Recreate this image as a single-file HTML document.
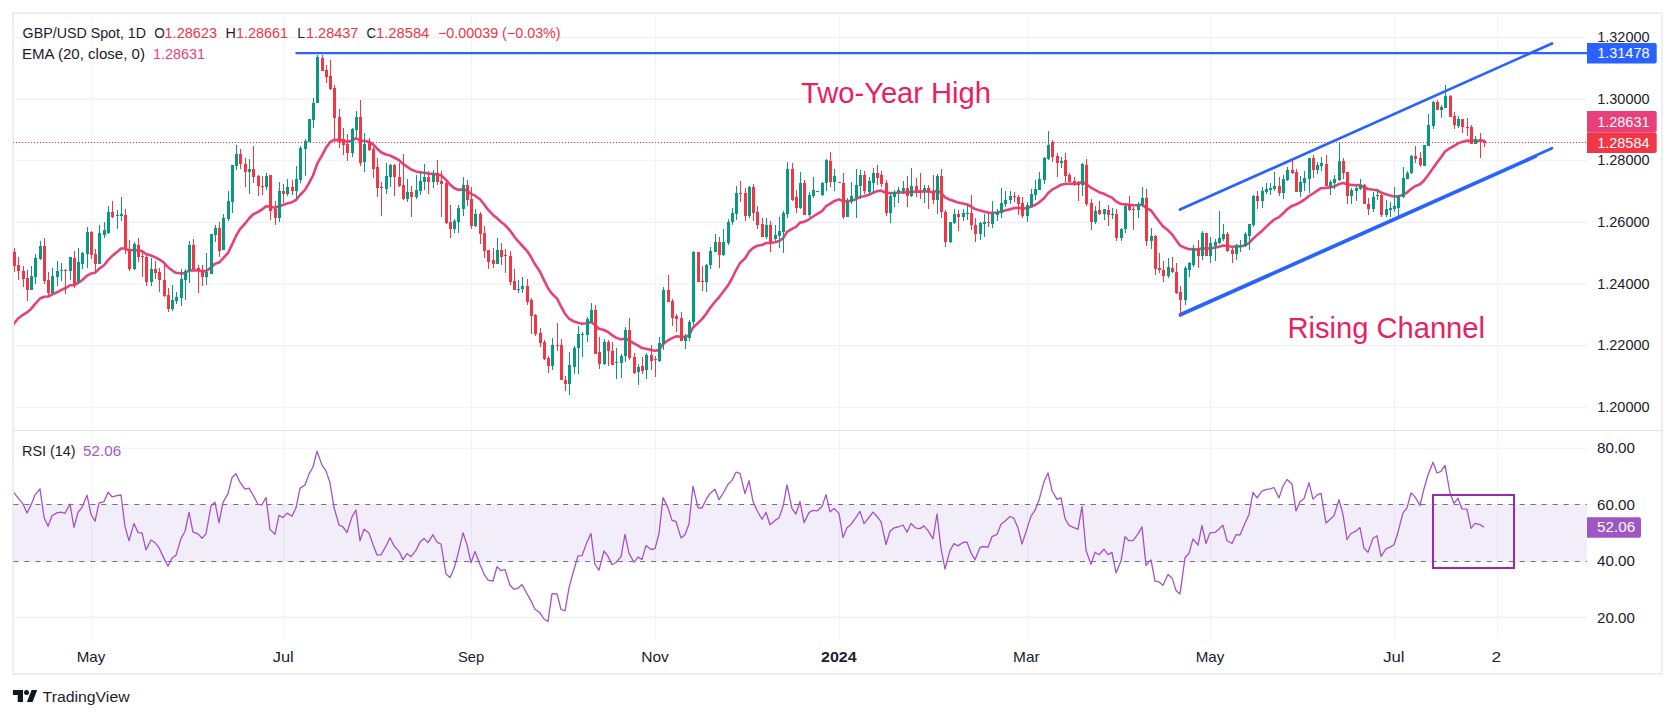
<!DOCTYPE html>
<html lang="en"><head><meta charset="utf-8"><title>GBP/USD Spot, 1D</title>
<style>html,body{margin:0;padding:0;background:#fff}body{width:1675px;height:718px;overflow:hidden}svg{display:block}text{font-family:"Liberation Sans", Arial, sans-serif;font-size:14.4px;fill:#1c202b}</style>
</head><body>
<svg width="1675" height="718" viewBox="0 0 1675 718">
<rect width="1675" height="718" fill="#fff"/>
<defs><clipPath id="plot"><rect x="14" y="14" width="1573" height="625"/></clipPath></defs>
<rect x="13" y="13" width="1649" height="661" fill="none" stroke="#eceef3" stroke-width="2"/>
<path d="M91.5 14V638.5M283.5 14V638.5M471.5 14V638.5M655.5 14V638.5M839.5 14V638.5M1027.5 14V638.5M1210.5 14V638.5M1394.5 14V638.5M1497.5 14V638.5" stroke="#f2f3f4" stroke-width="1" fill="none" shape-rendering="crispEdges"/>
<path d="M14 37.5H1587.0M14 99.1H1587.0M14 160.7H1587.0M14 222.4H1587.0M14 284.0H1587.0M14 345.6H1587.0M14 407.3H1587.0M14 448.3H1587.0M14 617.4H1587.0" stroke="#eff0f2" stroke-width="1.1" fill="none"/>
<path d="M13 430.5H1662" stroke="#e0e3eb" stroke-width="1" shape-rendering="crispEdges"/>
<rect x="14" y="504" width="1573.0" height="57.8" fill="#7e57c2" fill-opacity="0.1"/>
<path d="M13.4 504.5H1587.0M13.4 561.5H1587.0" stroke="#6f727c" stroke-width="1" stroke-dasharray="5 5.995" fill="none"/>
<path d="M13 142.5H1587.0" stroke="#f23645" stroke-width="1" stroke-dasharray="1.2 1.8" fill="none"/>
<polyline clip-path="url(#plot)" points="10.7,328.3 14.0,323.5 18.0,318.5 23.0,314.8 27.0,312.4 31.0,308.9 35.0,304.1 40.0,298.5 44.0,296.8 48.0,296.5 52.0,294.5 57.0,292.3 61.0,290.1 65.0,288.3 70.0,285.3 74.0,285.2 78.0,283.0 82.0,280.2 87.0,275.6 91.0,273.6 95.0,272.7 99.0,268.9 104.0,265.2 108.0,260.1 112.0,256.1 117.0,252.1 121.0,248.5 125.0,248.5 129.0,250.5 134.0,249.8 138.0,250.5 142.0,251.1 146.0,254.0 151.0,255.5 155.0,257.1 159.0,259.3 164.0,262.8 168.0,267.2 172.0,270.3 176.0,272.8 181.0,273.4 185.0,273.1 189.0,270.5 193.0,270.3 198.0,270.5 202.0,271.1 206.0,271.1 211.0,267.6 215.0,263.8 219.0,262.6 223.0,258.4 228.0,253.0 232.0,244.6 236.0,236.0 240.0,229.1 245.0,223.6 249.0,218.5 253.0,214.5 258.0,211.8 262.0,209.5 266.0,206.3 270.0,206.8 275.0,207.8 279.0,206.2 283.0,205.0 287.0,203.4 292.0,202.2 296.0,200.0 300.0,195.0 305.0,189.9 309.0,183.2 313.0,175.5 317.0,164.2 322.0,155.3 326.0,147.8 330.0,142.2 334.0,139.9 339.0,140.1 343.0,140.5 347.0,141.7 352.0,140.5 356.0,138.2 360.0,140.6 364.0,140.9 369.0,141.7 373.0,144.3 377.0,148.5 381.0,152.2 386.0,154.5 390.0,155.5 394.0,157.5 399.0,160.2 403.0,163.9 407.0,166.6 411.0,169.5 416.0,171.4 420.0,172.3 424.0,172.8 428.0,173.6 433.0,173.7 437.0,174.4 441.0,175.3 446.0,179.9 450.0,184.5 454.0,188.0 458.0,189.9 463.0,189.4 467.0,190.4 471.0,193.8 475.0,195.7 480.0,199.3 484.0,204.2 488.0,209.7 493.0,214.9 497.0,218.3 501.0,221.9 505.0,225.1 510.0,230.5 514.0,236.2 518.0,241.2 522.0,245.5 527.0,250.8 531.0,257.0 535.0,264.3 540.0,271.8 544.0,280.1 548.0,288.3 552.0,293.7 557.0,298.6 561.0,306.4 565.0,313.8 569.0,318.7 574.0,321.5 578.0,322.7 582.0,323.7 587.0,323.3 591.0,322.0 595.0,325.0 599.0,328.7 604.0,330.0 608.0,332.0 612.0,335.1 616.0,337.6 621.0,339.4 625.0,338.5 629.0,340.3 634.0,343.4 638.0,345.7 642.0,348.0 646.0,348.7 651.0,349.9 655.0,350.8 659.0,350.1 663.0,344.3 668.0,340.3 672.0,338.2 676.0,336.3 681.0,336.8 685.0,336.8 689.0,335.4 693.0,327.4 698.0,323.0 702.0,319.1 706.0,314.0 710.0,308.0 715.0,301.7 719.0,297.3 723.0,292.0 728.0,285.4 732.0,278.5 736.0,270.3 740.0,263.0 745.0,258.5 749.0,251.8 753.0,248.0 757.0,245.8 762.0,245.0 766.0,243.0 770.0,242.9 775.0,242.2 779.0,241.1 783.0,238.4 787.0,231.8 792.0,228.8 796.0,226.8 800.0,222.6 804.0,221.9 809.0,219.3 813.0,216.5 817.0,214.1 822.0,211.1 826.0,206.2 830.0,203.9 834.0,201.2 839.0,199.4 843.0,201.1 847.0,201.1 851.0,200.7 856.0,199.2 860.0,196.8 864.0,196.3 869.0,194.8 873.0,192.7 877.0,191.3 881.0,190.6 886.0,192.8 890.0,193.1 894.0,193.0 898.0,192.7 903.0,192.3 907.0,192.6 911.0,191.9 916.0,191.8 920.0,191.7 924.0,191.4 928.0,191.5 933.0,192.3 937.0,190.7 941.0,192.7 945.0,197.4 950.0,199.7 954.0,201.1 958.0,202.6 963.0,203.6 967.0,204.5 971.0,206.5 975.0,209.1 980.0,210.4 984.0,211.5 988.0,212.6 992.0,212.7 997.0,212.6 1001.0,211.7 1005.0,210.6 1010.0,209.2 1014.0,208.1 1018.0,207.7 1022.0,208.5 1027.0,208.1 1031.0,206.8 1035.0,205.0 1039.0,202.6 1044.0,198.3 1048.0,193.2 1052.0,189.7 1057.0,187.2 1061.0,184.7 1065.0,183.9 1069.0,183.7 1074.0,183.6 1078.0,183.7 1082.0,181.9 1086.0,184.0 1091.0,187.7 1095.0,189.9 1099.0,192.2 1104.0,193.8 1108.0,195.9 1112.0,197.6 1116.0,201.4 1121.0,204.0 1125.0,204.2 1129.0,204.8 1133.0,205.3 1138.0,205.2 1142.0,204.5 1146.0,207.9 1151.0,210.5 1155.0,216.1 1159.0,221.2 1163.0,226.4 1168.0,230.3 1172.0,234.3 1176.0,239.9 1180.0,245.6 1185.0,247.7 1189.0,249.2 1193.0,249.1 1198.0,249.7 1202.0,248.1 1206.0,248.8 1210.0,248.2 1215.0,247.6 1219.0,246.7 1223.0,245.5 1227.0,246.0 1232.0,246.7 1236.0,246.5 1240.0,246.4 1245.0,245.2 1249.0,243.2 1253.0,238.7 1257.0,235.1 1262.0,230.9 1266.0,226.9 1270.0,223.2 1274.0,219.7 1279.0,217.1 1283.0,213.5 1287.0,209.4 1292.0,205.9 1296.0,204.5 1300.0,202.3 1304.0,200.0 1309.0,196.0 1313.0,193.5 1317.0,190.8 1321.0,188.2 1326.0,187.9 1330.0,187.4 1334.0,186.5 1339.0,184.1 1343.0,183.1 1347.0,184.3 1351.0,184.9 1356.0,185.2 1360.0,185.1 1364.0,187.0 1368.0,189.0 1373.0,189.8 1377.0,190.2 1381.0,192.6 1386.0,194.2 1390.0,195.5 1394.0,196.5 1398.0,196.4 1403.0,194.7 1407.0,192.6 1411.0,189.1 1415.0,186.2 1420.0,184.2 1424.0,180.5 1428.0,175.2 1433.0,168.2 1437.0,162.6 1441.0,157.3 1445.0,151.5 1450.0,148.2 1454.0,146.0 1458.0,143.4 1462.0,141.9 1467.0,140.5 1471.0,140.9 1475.0,140.7 1480.0,140.7 1484.0,140.9" fill="none" stroke="#e8407a" stroke-width="2.6" stroke-linejoin="round" stroke-linecap="round"/>
<path d="M295.5 53.2H1587.0" stroke="#2962ff" stroke-width="2.3" fill="none"/>
<path d="M1180 209.6L1552 43.5" stroke="#2962ff" stroke-width="2.7" fill="none" stroke-linecap="round"/>
<path d="M1180 314.3L1552 148.2M1180 315.6L1536 156.6" stroke="#2962ff" stroke-width="2.6" fill="none" stroke-linecap="round"/>
<g shape-rendering="crispEdges">
<path d="M31.5 266V290M35.5 254V284M40.5 241V260M52.5 268V294M57.5 261V286M61.5 263V281M70.5 257V280M78.5 248V283M82.5 252V269M87.5 227V268M99.5 225V264M104.5 222V238M108.5 206V234M117.5 210V229M121.5 197V221M134.5 242V270M151.5 258V286M172.5 285V311M176.5 292V304M181.5 269V306M185.5 269V300M189.5 241V283M206.5 253V285M211.5 234V274M215.5 225V242M223.5 214V250M228.5 191V221M232.5 165V213M236.5 145V170M249.5 159V194M266.5 173V190M279.5 182V222M287.5 179V196M296.5 166V198M300.5 146V183M305.5 139V176M309.5 119V142M313.5 98V128M317.5 55V103M352.5 128V157M356.5 111V137M364.5 133V172M386.5 163V194M390.5 164V187M407.5 179V202M416.5 175V199M420.5 171V195M424.5 164V190M433.5 170V188M454.5 219V233M458.5 205V233M463.5 177V216M475.5 209V227M497.5 238V264M518.5 280V293M522.5 277V293M552.5 338V370M569.5 352V395M574.5 346V374M578.5 326V374M582.5 332V357M587.5 317V342M591.5 303V323M604.5 339V365M616.5 348V379M621.5 354V378M625.5 327V362M638.5 364V385M646.5 353V379M659.5 337V362M663.5 287V350M685.5 334V349M689.5 320V341M693.5 251V325M706.5 264V292M710.5 247V269M715.5 234V252M723.5 229V256M728.5 219V245M732.5 208V225M736.5 186V220M749.5 186V218M766.5 218V239M775.5 225V242M779.5 217V248M783.5 211V253M787.5 162V218M800.5 172V209M809.5 192V217M813.5 177V198M817.5 191V192M822.5 182V196M826.5 159V191M834.5 169V191M839.5 182V183M847.5 198V217M851.5 182V204M856.5 169V218M860.5 170V199M869.5 177V195M873.5 168V194M890.5 192V223M894.5 190V207M898.5 187V203M903.5 181V194M911.5 168V197M924.5 185V203M937.5 174V214M950.5 222V243M954.5 209V224M963.5 209V221M967.5 205V220M980.5 222V240M984.5 214V237M992.5 201V228M997.5 209V221M1001.5 188V218M1005.5 191V207M1010.5 191V204M1027.5 202V222M1031.5 189V207M1035.5 180V200M1039.5 172V190M1044.5 157V184M1048.5 131V160M1061.5 157V168M1082.5 163V196M1095.5 206V224M1104.5 209V220M1112.5 208V219M1121.5 228V241M1125.5 205V233M1138.5 202V218M1142.5 187V207M1151.5 228V249M1168.5 258V278M1185.5 266V305M1189.5 262V277M1193.5 245V267M1202.5 231V260M1210.5 237V263M1215.5 239V261M1219.5 211V244M1223.5 224V241M1236.5 244V260M1240.5 240V252M1245.5 232V247M1249.5 224V250M1253.5 195V227M1262.5 187V208M1266.5 183V194M1270.5 183V195M1274.5 172V191M1283.5 175V199M1287.5 167V181M1300.5 176V197M1304.5 171V191M1309.5 158V193M1317.5 162V174M1321.5 157V171M1330.5 180V195M1334.5 175V189M1339.5 142V181M1351.5 188V204M1356.5 186V201M1360.5 179V190M1373.5 192V212M1377.5 190V200M1386.5 200V217M1390.5 202V217M1394.5 187V212M1398.5 195V217M1403.5 167V198M1407.5 171V179M1411.5 155V174M1424.5 145V166M1428.5 114V146M1433.5 101V129M1441.5 105V118M1445.5 85V108M1458.5 116V128M1475.5 136V144" stroke="#089981" stroke-width="1" fill="none"/>
<path d="M14.5 248V272M18.5 257V280M23.5 266V287M27.5 270V301M44.5 238V284M48.5 272V297M65.5 269V294M74.5 251V288M91.5 231V259M95.5 249V272M112.5 201V218M125.5 209V254M129.5 240V271M138.5 238V262M142.5 251V277M146.5 255V286M155.5 261V279M159.5 268V292M164.5 262V297M168.5 288V312M193.5 239V270M198.5 265V293M202.5 265V286M219.5 222V257M240.5 149V169M245.5 158V187M253.5 146V183M258.5 175V196M262.5 176V195M270.5 175V220M275.5 201V225M283.5 184V203M292.5 180V195M322.5 55V71M326.5 65V83M330.5 60V90M334.5 85V139M339.5 109V148M343.5 128V155M347.5 134V161M360.5 100V166M369.5 138V151M373.5 147V178M377.5 158V197M381.5 182V216M394.5 164V196M399.5 163V187M403.5 154V200M411.5 186V217M428.5 171V194M437.5 160V185M441.5 171V217M446.5 182V224M450.5 205V238M467.5 180V206M471.5 187V229M480.5 212V244M484.5 226V258M488.5 250V269M493.5 248V268M501.5 243V265M505.5 249V273M510.5 251V285M514.5 269V290M527.5 279V305M531.5 298V334M535.5 314V336M540.5 328V347M544.5 340V360M548.5 356V373M557.5 323V351M561.5 339V380M565.5 376V391M595.5 305V354M599.5 337V369M608.5 340V366M612.5 342V365M629.5 318V360M634.5 353V374M642.5 357V374M651.5 345V370M655.5 356V377M668.5 275V302M672.5 299V326M676.5 314V332M681.5 312V341M698.5 252V282M702.5 266V291M719.5 237V268M740.5 181V202M745.5 188V221M753.5 184V221M757.5 206V229M762.5 218V237M770.5 221V252M792.5 163V201M796.5 190V213M804.5 180V215M830.5 152V187M843.5 173V219M864.5 171V194M877.5 165V185M881.5 171V187M886.5 180V216M907.5 176V207M916.5 178V197M920.5 173V199M928.5 185V209M933.5 175V204M941.5 169V218M945.5 210V247M958.5 210V231M971.5 195V230M975.5 218V242M988.5 212V227M1014.5 192V202M1018.5 195V215M1022.5 197V218M1052.5 140V162M1057.5 153V177M1065.5 153V182M1069.5 173V182M1074.5 177V186M1078.5 181V201M1086.5 159V206M1091.5 199V230M1099.5 201V215M1108.5 205V226M1116.5 209V241M1129.5 196V211M1133.5 207V230M1146.5 189V246M1155.5 235V275M1159.5 253V273M1163.5 261V282M1172.5 257V273M1176.5 263V294M1180.5 286V315M1198.5 240V268M1206.5 233V256M1227.5 232V252M1232.5 248V263M1257.5 191V209M1279.5 177V196M1292.5 160V174M1296.5 169V192M1313.5 155V178M1326.5 155V186M1343.5 158V179M1347.5 172V204M1364.5 184V204M1368.5 198V215M1381.5 194V217M1415.5 146V163M1420.5 152V167M1437.5 100V110M1450.5 95V117M1454.5 112V129M1462.5 119V133M1467.5 118V136M1471.5 125V144M1480.5 133V158M1484.5 140V147" stroke="#f23645" stroke-width="1" fill="none"/>
<path d="M30 276h3v14h-3zM34 258h3v19h-3zM39 246h3v13h-3zM51 276h3v17h-3zM56 271h3v6h-3zM60 270h3v1h-3zM69 257h3v14h-3zM77 262h3v20h-3zM81 253h3v11h-3zM86 232h3v22h-3zM98 233h3v31h-3zM103 230h3v5h-3zM107 212h3v21h-3zM116 215h3v1h-3zM120 214h3v2h-3zM133 244h3v25h-3zM150 269h3v13h-3zM171 300h3v9h-3zM175 297h3v4h-3zM180 279h3v19h-3zM184 271h3v9h-3zM188 245h3v26h-3zM205 272h3v5h-3zM210 234h3v40h-3zM214 228h3v7h-3zM222 218h3v32h-3zM227 201h3v18h-3zM231 165h3v37h-3zM235 154h3v12h-3zM248 169h3v3h-3zM265 176h3v11h-3zM278 191h3v27h-3zM286 187h3v7h-3zM295 179h3v12h-3zM299 148h3v32h-3zM304 141h3v8h-3zM308 119h3v23h-3zM312 103h3v17h-3zM316 57h3v46h-3zM351 129h3v24h-3zM355 117h3v13h-3zM363 144h3v18h-3zM385 176h3v13h-3zM389 165h3v12h-3zM406 192h3v7h-3zM415 190h3v7h-3zM419 181h3v10h-3zM423 177h3v5h-3zM432 174h3v8h-3zM453 221h3v8h-3zM457 208h3v14h-3zM462 185h3v24h-3zM474 214h3v12h-3zM496 250h3v14h-3zM517 289h3v1h-3zM521 286h3v3h-3zM551 345h3v21h-3zM568 365h3v19h-3zM573 348h3v19h-3zM577 334h3v14h-3zM581 334h3v1h-3zM586 319h3v16h-3zM590 310h3v13h-3zM603 342h3v22h-3zM615 362h3v1h-3zM620 356h3v7h-3zM624 330h3v26h-3zM637 367h3v5h-3zM645 355h3v15h-3zM658 343h3v18h-3zM662 290h3v54h-3zM684 337h3v4h-3zM688 322h3v16h-3zM692 252h3v70h-3zM705 265h3v17h-3zM709 251h3v14h-3zM714 242h3v10h-3zM722 242h3v13h-3zM727 222h3v21h-3zM731 213h3v9h-3zM735 193h3v21h-3zM748 187h3v29h-3zM765 225h3v12h-3zM774 235h3v4h-3zM778 231h3v5h-3zM782 213h3v19h-3zM786 169h3v45h-3zM799 183h3v25h-3zM808 195h3v20h-3zM812 190h3v6h-3zM816 191h3v1h-3zM821 183h3v12h-3zM825 160h3v23h-3zM833 176h3v6h-3zM838 182h3v1h-3zM846 202h3v15h-3zM850 196h3v6h-3zM855 185h3v13h-3zM859 175h3v11h-3zM868 181h3v11h-3zM872 173h3v10h-3zM889 196h3v17h-3zM893 192h3v5h-3zM897 190h3v2h-3zM902 188h3v3h-3zM910 186h3v10h-3zM923 188h3v3h-3zM936 176h3v24h-3zM949 222h3v20h-3zM953 214h3v9h-3zM962 213h3v4h-3zM966 213h3v1h-3zM979 223h3v11h-3zM983 222h3v2h-3zM991 214h3v10h-3zM996 212h3v3h-3zM1000 203h3v10h-3zM1004 200h3v4h-3zM1009 196h3v4h-3zM1026 205h3v11h-3zM1030 194h3v12h-3zM1034 189h3v6h-3zM1038 179h3v11h-3zM1043 158h3v22h-3zM1047 145h3v14h-3zM1060 161h3v2h-3zM1081 164h3v21h-3zM1094 211h3v11h-3zM1103 209h3v5h-3zM1111 214h3v1h-3zM1120 229h3v9h-3zM1124 206h3v23h-3zM1137 204h3v6h-3zM1141 198h3v7h-3zM1150 236h3v5h-3zM1167 267h3v9h-3zM1184 268h3v32h-3zM1188 263h3v7h-3zM1192 248h3v17h-3zM1201 233h3v23h-3zM1209 243h3v13h-3zM1214 242h3v4h-3zM1218 238h3v5h-3zM1222 234h3v5h-3zM1235 245h3v9h-3zM1239 245h3v2h-3zM1244 234h3v12h-3zM1248 224h3v12h-3zM1252 196h3v29h-3zM1261 191h3v10h-3zM1265 189h3v3h-3zM1269 188h3v2h-3zM1273 186h3v3h-3zM1282 179h3v14h-3zM1286 170h3v10h-3zM1299 182h3v10h-3zM1303 178h3v5h-3zM1308 158h3v21h-3zM1316 165h3v5h-3zM1320 163h3v3h-3zM1329 182h3v4h-3zM1333 179h3v4h-3zM1338 161h3v19h-3zM1350 190h3v6h-3zM1355 188h3v3h-3zM1359 185h3v4h-3zM1372 197h3v12h-3zM1376 195h3v1h-3zM1385 209h3v6h-3zM1389 208h3v2h-3zM1393 206h3v3h-3zM1397 196h3v12h-3zM1402 178h3v19h-3zM1406 173h3v6h-3zM1410 156h3v17h-3zM1423 145h3v21h-3zM1427 125h3v21h-3zM1432 102h3v24h-3zM1440 107h3v3h-3zM1444 96h3v12h-3zM1457 119h3v7h-3zM1474 139h3v5h-3z" fill="#089981"/>
<path d="M13 252h3v14h-3zM17 265h3v6h-3zM22 271h3v8h-3zM26 278h3v12h-3zM43 246h3v35h-3zM47 280h3v13h-3zM64 270h3v1h-3zM73 258h3v26h-3zM90 232h3v23h-3zM94 254h3v10h-3zM111 212h3v5h-3zM124 215h3v34h-3zM128 249h3v20h-3zM137 245h3v12h-3zM141 256h3v1h-3zM145 257h3v25h-3zM154 269h3v4h-3zM158 272h3v8h-3zM163 280h3v16h-3zM167 295h3v14h-3zM192 245h3v24h-3zM197 268h3v3h-3zM201 271h3v6h-3zM218 228h3v23h-3zM239 154h3v10h-3zM244 164h3v8h-3zM252 169h3v8h-3zM257 176h3v10h-3zM261 186h3v1h-3zM269 175h3v36h-3zM274 209h3v9h-3zM282 191h3v3h-3zM291 187h3v4h-3zM321 58h3v13h-3zM325 70h3v7h-3zM329 76h3v13h-3zM333 88h3v30h-3zM338 117h3v25h-3zM342 139h3v6h-3zM346 144h3v9h-3zM359 117h3v46h-3zM368 143h3v7h-3zM372 149h3v20h-3zM376 167h3v21h-3zM380 187h3v1h-3zM393 165h3v12h-3zM398 177h3v9h-3zM402 185h3v14h-3zM410 192h3v5h-3zM427 177h3v5h-3zM436 173h3v9h-3zM440 181h3v3h-3zM445 183h3v40h-3zM449 222h3v7h-3zM466 185h3v15h-3zM470 199h3v27h-3zM479 214h3v20h-3zM483 233h3v18h-3zM487 250h3v12h-3zM492 260h3v4h-3zM500 250h3v7h-3zM504 255h3v1h-3zM509 256h3v26h-3zM513 281h3v9h-3zM526 286h3v16h-3zM530 300h3v16h-3zM534 315h3v19h-3zM539 333h3v10h-3zM543 342h3v17h-3zM547 358h3v8h-3zM556 345h3v1h-3zM560 345h3v35h-3zM564 380h3v4h-3zM594 310h3v44h-3zM598 352h3v12h-3zM607 342h3v9h-3zM611 351h3v14h-3zM628 330h3v28h-3zM633 357h3v16h-3zM641 366h3v5h-3zM650 355h3v6h-3zM654 359h3v1h-3zM667 290h3v12h-3zM671 301h3v17h-3zM675 316h3v3h-3zM680 318h3v23h-3zM697 252h3v30h-3zM701 281h3v1h-3zM718 242h3v13h-3zM739 193h3v1h-3zM744 193h3v23h-3zM752 187h3v26h-3zM756 212h3v13h-3zM761 224h3v13h-3zM769 225h3v17h-3zM791 169h3v31h-3zM795 197h3v11h-3zM803 183h3v32h-3zM829 161h3v21h-3zM842 183h3v34h-3zM863 175h3v16h-3zM876 173h3v5h-3zM880 175h3v9h-3zM885 183h3v30h-3zM906 188h3v8h-3zM915 186h3v5h-3zM919 190h3v1h-3zM927 188h3v4h-3zM932 192h3v8h-3zM940 176h3v36h-3zM944 212h3v30h-3zM957 214h3v3h-3zM970 213h3v12h-3zM974 225h3v9h-3zM987 222h3v1h-3zM1013 196h3v1h-3zM1017 197h3v7h-3zM1021 203h3v13h-3zM1051 142h3v15h-3zM1056 156h3v7h-3zM1064 160h3v16h-3zM1068 175h3v7h-3zM1073 181h3v2h-3zM1077 182h3v3h-3zM1085 165h3v39h-3zM1090 203h3v19h-3zM1098 210h3v4h-3zM1107 210h3v5h-3zM1115 214h3v24h-3zM1128 204h3v6h-3zM1132 209h3v1h-3zM1145 198h3v43h-3zM1154 236h3v33h-3zM1158 268h3v2h-3zM1162 270h3v6h-3zM1171 268h3v4h-3zM1175 272h3v21h-3zM1179 292h3v8h-3zM1197 248h3v8h-3zM1205 233h3v23h-3zM1226 234h3v17h-3zM1231 250h3v4h-3zM1256 196h3v5h-3zM1278 186h3v7h-3zM1291 170h3v3h-3zM1295 172h3v20h-3zM1312 158h3v12h-3zM1325 164h3v22h-3zM1342 161h3v12h-3zM1346 172h3v24h-3zM1363 185h3v19h-3zM1367 204h3v5h-3zM1380 195h3v20h-3zM1414 156h3v3h-3zM1419 158h3v7h-3zM1436 102h3v8h-3zM1449 96h3v21h-3zM1453 116h3v9h-3zM1461 119h3v8h-3zM1466 127h3v1h-3zM1470 127h3v17h-3zM1479 139h3v1h-3zM1483 141h3v2h-3z" fill="#f23645"/>
</g>
<text x="801" y="102.7" textLength="190" lengthAdjust="spacingAndGlyphs" style="font-size:28.8px;fill:#e91e63">Two-Year High</text>
<text x="1287.4" y="337.7" textLength="197.6" lengthAdjust="spacingAndGlyphs" style="font-size:28.8px;fill:#e91e63">Rising Channel</text>
<polyline clip-path="url(#plot)" points="10.7,490.5 14.0,492.8 18.0,497.8 23.0,503.9 27.0,513.0 31.0,504.9 35.0,494.9 40.0,488.8 44.0,517.2 48.0,526.3 52.0,515.8 57.0,512.9 61.0,512.1 65.0,513.3 70.0,504.0 74.0,527.4 78.0,512.5 82.0,507.3 87.0,495.2 91.0,514.3 95.0,521.3 99.0,503.1 104.0,501.7 108.0,492.2 112.0,496.8 117.0,495.6 121.0,495.0 125.0,526.4 129.0,540.8 134.0,523.4 138.0,532.6 142.0,532.8 146.0,549.9 151.0,540.0 155.0,542.7 159.0,547.7 164.0,558.4 168.0,566.2 172.0,558.0 176.0,555.4 181.0,538.4 185.0,531.5 189.0,512.4 193.0,532.1 198.0,533.9 202.0,538.3 206.0,533.9 211.0,506.0 215.0,502.3 219.0,522.8 223.0,502.4 228.0,493.6 232.0,477.7 236.0,473.7 240.0,482.2 245.0,489.1 249.0,488.1 253.0,495.0 258.0,504.3 262.0,504.8 266.0,497.5 270.0,529.4 275.0,534.2 279.0,515.4 283.0,517.5 287.0,513.1 292.0,516.2 296.0,507.8 300.0,488.4 305.0,485.0 309.0,474.1 313.0,467.0 317.0,451.2 322.0,465.1 326.0,470.9 330.0,482.8 334.0,507.5 339.0,524.9 343.0,527.0 347.0,532.5 352.0,516.9 356.0,510.0 360.0,540.8 364.0,529.2 369.0,533.1 373.0,544.5 377.0,554.9 381.0,554.9 386.0,546.0 390.0,537.8 394.0,545.8 399.0,551.4 403.0,559.6 407.0,553.5 411.0,556.7 416.0,550.3 420.0,542.1 424.0,538.4 428.0,542.6 433.0,534.7 437.0,542.2 441.0,544.0 446.0,574.0 450.0,577.4 454.0,568.6 458.0,554.1 463.0,532.8 467.0,544.6 471.0,562.8 475.0,551.5 480.0,564.5 484.0,574.1 488.0,580.1 493.0,581.0 497.0,566.7 501.0,570.7 505.0,569.5 510.0,585.3 514.0,589.3 518.0,588.2 522.0,584.6 527.0,593.7 531.0,600.9 535.0,609.2 540.0,612.8 544.0,619.0 548.0,621.5 552.0,593.6 557.0,593.8 561.0,609.5 565.0,610.8 569.0,587.9 574.0,569.5 578.0,555.9 582.0,555.7 587.0,542.1 591.0,533.5 595.0,564.5 599.0,570.2 604.0,551.0 608.0,556.4 612.0,564.8 616.0,562.5 621.0,556.7 625.0,534.3 629.0,553.3 634.0,562.3 638.0,557.1 642.0,559.4 646.0,545.6 651.0,549.5 655.0,548.7 659.0,533.7 663.0,497.6 668.0,507.9 672.0,520.4 676.0,521.5 681.0,537.9 685.0,534.8 689.0,523.7 693.0,486.2 698.0,507.8 702.0,508.0 706.0,499.7 710.0,493.4 715.0,489.3 719.0,499.7 723.0,493.5 728.0,484.3 732.0,480.4 736.0,472.2 740.0,473.3 745.0,493.6 749.0,480.7 753.0,501.5 757.0,510.5 762.0,519.3 766.0,512.2 770.0,524.7 775.0,520.4 779.0,517.9 783.0,506.6 787.0,484.8 792.0,508.6 796.0,514.0 800.0,501.5 804.0,522.6 809.0,512.6 813.0,510.3 817.0,510.9 822.0,506.5 826.0,494.6 830.0,511.8 834.0,508.5 839.0,513.4 843.0,537.5 847.0,527.8 851.0,524.4 856.0,517.4 860.0,511.4 864.0,523.6 869.0,517.5 873.0,512.1 877.0,516.5 881.0,521.7 886.0,544.5 890.0,531.3 894.0,527.9 898.0,527.0 903.0,525.0 907.0,532.2 911.0,523.5 916.0,528.2 920.0,528.6 924.0,525.9 928.0,530.6 933.0,538.8 937.0,514.0 941.0,548.5 945.0,569.0 950.0,550.4 954.0,543.6 958.0,545.9 963.0,542.5 967.0,542.2 971.0,552.8 975.0,559.7 980.0,547.4 984.0,546.5 988.0,547.3 992.0,536.7 997.0,534.4 1001.0,524.3 1005.0,521.2 1010.0,516.5 1014.0,518.4 1018.0,527.9 1022.0,544.0 1027.0,528.9 1031.0,516.1 1035.0,510.4 1039.0,500.1 1044.0,481.8 1048.0,472.9 1052.0,490.7 1057.0,499.4 1061.0,497.8 1065.0,518.5 1069.0,525.3 1074.0,527.6 1078.0,529.3 1082.0,506.3 1086.0,550.2 1091.0,564.4 1095.0,552.2 1099.0,554.7 1104.0,549.2 1108.0,554.6 1112.0,552.4 1116.0,572.9 1121.0,561.1 1125.0,536.7 1129.0,540.7 1133.0,540.7 1138.0,533.9 1142.0,526.9 1146.0,565.4 1151.0,559.9 1155.0,581.2 1159.0,581.9 1163.0,585.3 1168.0,574.4 1172.0,577.9 1176.0,590.4 1180.0,593.9 1185.0,557.8 1189.0,553.3 1193.0,538.8 1198.0,545.0 1202.0,525.4 1206.0,543.5 1210.0,532.8 1215.0,532.4 1219.0,529.0 1223.0,525.3 1227.0,540.8 1232.0,543.5 1236.0,534.7 1240.0,535.0 1245.0,523.3 1249.0,514.4 1253.0,492.5 1257.0,497.9 1262.0,491.1 1266.0,489.6 1270.0,488.9 1274.0,487.5 1279.0,497.9 1283.0,486.0 1287.0,479.5 1292.0,484.1 1296.0,511.0 1300.0,501.8 1304.0,498.6 1309.0,482.7 1313.0,499.1 1317.0,495.1 1321.0,493.4 1326.0,523.1 1330.0,519.5 1334.0,515.8 1339.0,499.6 1343.0,514.7 1347.0,539.5 1351.0,533.5 1356.0,531.1 1360.0,527.6 1364.0,548.3 1368.0,552.3 1373.0,538.3 1377.0,535.8 1381.0,556.4 1386.0,548.9 1390.0,547.1 1394.0,544.8 1398.0,532.2 1403.0,512.9 1407.0,507.8 1411.0,493.0 1415.0,496.9 1420.0,505.5 1424.0,488.7 1428.0,475.0 1433.0,462.2 1437.0,473.0 1441.0,471.4 1445.0,465.3 1450.0,493.0 1454.0,503.4 1458.0,498.3 1462.0,508.9 1467.0,509.1 1471.0,528.4 1475.0,523.4 1480.0,524.6 1484.0,527.3" fill="none" stroke="#a552c6" stroke-width="1.3" stroke-linejoin="round"/>
<rect x="1433" y="495" width="81" height="73" fill="none" stroke="#9c27b0" stroke-width="2"/>
<text x="22.6" y="37.9" textLength="123.5" lengthAdjust="spacingAndGlyphs">GBP/USD Spot, 1D</text>
<text x="154.2" y="37.9" textLength="10.6" lengthAdjust="spacingAndGlyphs">O</text>
<text x="164.5" y="37.9" textLength="52.6" lengthAdjust="spacingAndGlyphs" style="fill:#f23645">1.28623</text>
<text x="225.4" y="37.9" textLength="10.4" lengthAdjust="spacingAndGlyphs">H</text>
<text x="236.0" y="37.9" textLength="52.0" lengthAdjust="spacingAndGlyphs" style="fill:#f23645">1.28661</text>
<text x="297.2" y="37.9" textLength="7.8" lengthAdjust="spacingAndGlyphs">L</text>
<text x="306.0" y="37.9" textLength="52.4" lengthAdjust="spacingAndGlyphs" style="fill:#f23645">1.28437</text>
<text x="366.4" y="37.9" textLength="9.6" lengthAdjust="spacingAndGlyphs">C</text>
<text x="376.0" y="37.9" textLength="53.3" lengthAdjust="spacingAndGlyphs" style="fill:#f23645">1.28584</text>
<text x="438.0" y="37.9" textLength="122.6" lengthAdjust="spacingAndGlyphs" style="fill:#f23645">−0.00039 (−0.03%)</text>
<text x="22.0" y="58.9" textLength="123.0" lengthAdjust="spacingAndGlyphs">EMA (20, close, 0)</text>
<text x="152.9" y="58.9" textLength="52.2" lengthAdjust="spacingAndGlyphs" style="fill:#e8407a">1.28631</text>
<text x="22.0" y="456.0" textLength="53.6" lengthAdjust="spacingAndGlyphs">RSI (14)</text>
<text x="83.1" y="456.0" textLength="38.0" lengthAdjust="spacingAndGlyphs" style="fill:#a855c8">52.06</text>
<text x="1597.2" y="42.1" textLength="52.4" lengthAdjust="spacingAndGlyphs">1.32000</text>
<text x="1597.2" y="103.7" textLength="52.4" lengthAdjust="spacingAndGlyphs">1.30000</text>
<text x="1597.2" y="165.3" textLength="52.4" lengthAdjust="spacingAndGlyphs">1.28000</text>
<text x="1597.2" y="227.0" textLength="52.4" lengthAdjust="spacingAndGlyphs">1.26000</text>
<text x="1597.2" y="288.6" textLength="52.4" lengthAdjust="spacingAndGlyphs">1.24000</text>
<text x="1597.2" y="350.2" textLength="52.4" lengthAdjust="spacingAndGlyphs">1.22000</text>
<text x="1597.2" y="411.9" textLength="52.4" lengthAdjust="spacingAndGlyphs">1.20000</text>
<text x="1597.0" y="453.4" textLength="38.0" lengthAdjust="spacingAndGlyphs">80.00</text>
<text x="1597.0" y="509.8" textLength="38.0" lengthAdjust="spacingAndGlyphs">60.00</text>
<text x="1597.0" y="566.2" textLength="38.0" lengthAdjust="spacingAndGlyphs">40.00</text>
<text x="1597.0" y="622.6" textLength="38.0" lengthAdjust="spacingAndGlyphs">20.00</text>
<path d="M1587.0 43.0H1654.7a2 2 0 0 1 2 2V61.5a2 2 0 0 1 -2 2H1587.0z" fill="#2962ff"/>
<text x="1597.2" y="58.0" textLength="52.3" lengthAdjust="spacingAndGlyphs" style="fill:#fff">1.31478</text>
<path d="M1587.0 111.0H1654.7a2 2 0 0 1 2 2V130.5a2 2 0 0 1 -2 2H1587.0z" fill="#e8407a"/>
<text x="1597.2" y="126.5" textLength="52.3" lengthAdjust="spacingAndGlyphs" style="fill:#fff">1.28631</text>
<path d="M1587.0 132.5H1654.7a2 2 0 0 1 2 2V151.0a2 2 0 0 1 -2 2H1587.0z" fill="#f23645"/>
<text x="1597.2" y="147.6" textLength="52.3" lengthAdjust="spacingAndGlyphs" style="fill:#fff">1.28584</text>
<path d="M1587.0 517.2H1639.0a2 2 0 0 1 2 2V535.8a2 2 0 0 1 -2 2H1587.0z" fill="#9d56c4"/>
<text x="1597.0" y="532.3" textLength="38.1" lengthAdjust="spacingAndGlyphs" style="fill:#fff">52.06</text>
<text x="91.0" y="661.5" text-anchor="middle" textLength="28.6" lengthAdjust="spacingAndGlyphs">May</text>
<text x="283.2" y="661.5" text-anchor="middle" textLength="21.0" lengthAdjust="spacingAndGlyphs">Jul</text>
<text x="471.0" y="661.5" text-anchor="middle" textLength="26.2" lengthAdjust="spacingAndGlyphs">Sep</text>
<text x="655.0" y="661.5" text-anchor="middle" textLength="27.6" lengthAdjust="spacingAndGlyphs">Nov</text>
<text x="838.8" y="661.5" text-anchor="middle" textLength="35.6" lengthAdjust="spacingAndGlyphs" style="font-weight:bold">2024</text>
<text x="1026.4" y="661.5" text-anchor="middle" textLength="26.6" lengthAdjust="spacingAndGlyphs">Mar</text>
<text x="1210.0" y="661.5" text-anchor="middle" textLength="28.6" lengthAdjust="spacingAndGlyphs">May</text>
<text x="1393.9" y="661.5" text-anchor="middle" textLength="21.4" lengthAdjust="spacingAndGlyphs">Jul</text>
<text x="1496.2" y="661.5" text-anchor="middle" textLength="9.6" lengthAdjust="spacingAndGlyphs">2</text>
<g fill="#131722"><path d="M12.9 689.9H23V701.9H17.7V694.9H12.9z"/><circle cx="26.5" cy="692.4" r="2.5"/><path d="M31.6 689.9H37.2L32.6 701.9H26.9z"/></g>
<text x="42.6" y="701.9" textLength="87" lengthAdjust="spacingAndGlyphs" style="font-size:15.5px;fill:#1e222d">TradingView</text>
</svg></body></html>
